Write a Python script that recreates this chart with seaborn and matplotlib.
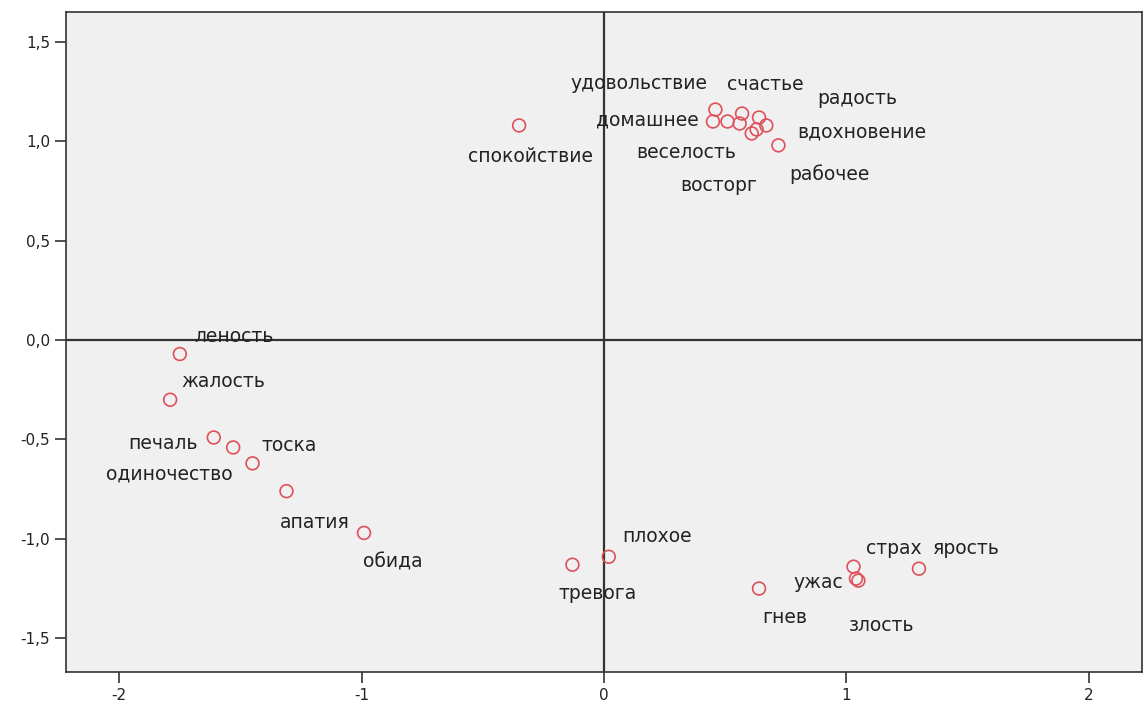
import matplotlib
matplotlib.use("Agg")
import matplotlib.pyplot as plt
import matplotlib.ticker as mticker
import seaborn as sns
import pandas as pd

# object scores
labels = [
    "спокойствие", "удовольствие", "счастье", "радость", "домашнее",
    "веселость", "", "восторг", "", "вдохновение", "рабочее",
    "леность", "жалость", "печаль", "тоска", "одиночество", "апатия", "обида",
    "тревога", "плохое", "страх", "ужас", "злость", "ярость", "гнев",
]
dim1 = [
    -0.35, 0.46, 0.57, 0.64, 0.45,
    0.51, 0.56, 0.61, 0.63, 0.67, 0.72,
    -1.75, -1.79, -1.61, -1.53, -1.45, -1.31, -0.99,
    -0.13, 0.02, 1.03, 1.04, 1.05, 1.30, 0.64,
]
dim2 = [
    1.08, 1.16, 1.14, 1.12, 1.10,
    1.10, 1.09, 1.04, 1.06, 1.08, 0.98,
    -0.07, -0.30, -0.49, -0.54, -0.62, -0.76, -0.97,
    -1.13, -1.09, -1.14, -1.20, -1.21, -1.15, -1.25,
]

# where each label sits relative to its point (pixels)
offsets = [
    (11, -31), (-76, 26), (23, 29), (98, 19), (-66, 1),
    (-41, -31), (0, 0), (-33, -52), (0, 0), (96, -7), (51, -29),
    (54, 18), (53, 18), (-51, -6), (56, 2), (-83, -11), (28, -31), (29, -29),
    (25, -29), (48, 20), (40, 18), (-38, -4), (23, -45), (47, 20), (26, -29),
]

df = pd.DataFrame({"label": labels, "x": dim1, "y": dim2})

sns.set_style("white")
plt.rcParams["font.family"] = ["DejaVu Sans"]
plt.rcParams["axes.unicode_minus"] = False

fig = plt.figure(figsize=(11.45, 7.08), dpi=100)
ax = fig.add_axes([0.0576, 0.0508, 0.9397, 0.932])
ax.set_facecolor("#f0f0f0")

ax.axhline(0, color="#333333", lw=1.6, zorder=1)
ax.axvline(0, color="#333333", lw=1.6, zorder=1)

sns.scatterplot(data=df, x="x", y="y", ax=ax, s=85, marker="o",
                facecolor="none", edgecolor="#e0505a", linewidth=1.2,
                zorder=3)

for (lab, x, y), (dx, dy) in zip(df[["label", "x", "y"]].values, offsets):
    if lab:
        ax.annotate(lab, (x, y), xytext=(dx, dy), textcoords="offset pixels",
                    ha="center", va="center", fontsize=13.5, color="#222222",
                    zorder=4)

ax.set_xlim(-2.22, 2.22)
ax.set_ylim(-1.67, 1.65)
ax.set_xticks([-2, -1, 0, 1, 2])
ax.set_yticks([-1.5, -1.0, -0.5, 0.0, 0.5, 1.0, 1.5])
ax.yaxis.set_major_formatter(
    mticker.FuncFormatter(lambda v, p: f"{v:.1f}".replace(".", ",")))
ax.xaxis.set_major_formatter(mticker.FuncFormatter(lambda v, p: f"{v:.0f}"))
ax.tick_params(axis="both", direction="out", length=8, width=1.2,
               color="#333333", labelsize=11, labelcolor="#222222",
               left=True, bottom=True)
ax.set_xlabel("")
ax.set_ylabel("")
for sp in ax.spines.values():
    sp.set_color("#333333")
    sp.set_linewidth(1.2)

fig.savefig("out.png", dpi=100, facecolor="white")
